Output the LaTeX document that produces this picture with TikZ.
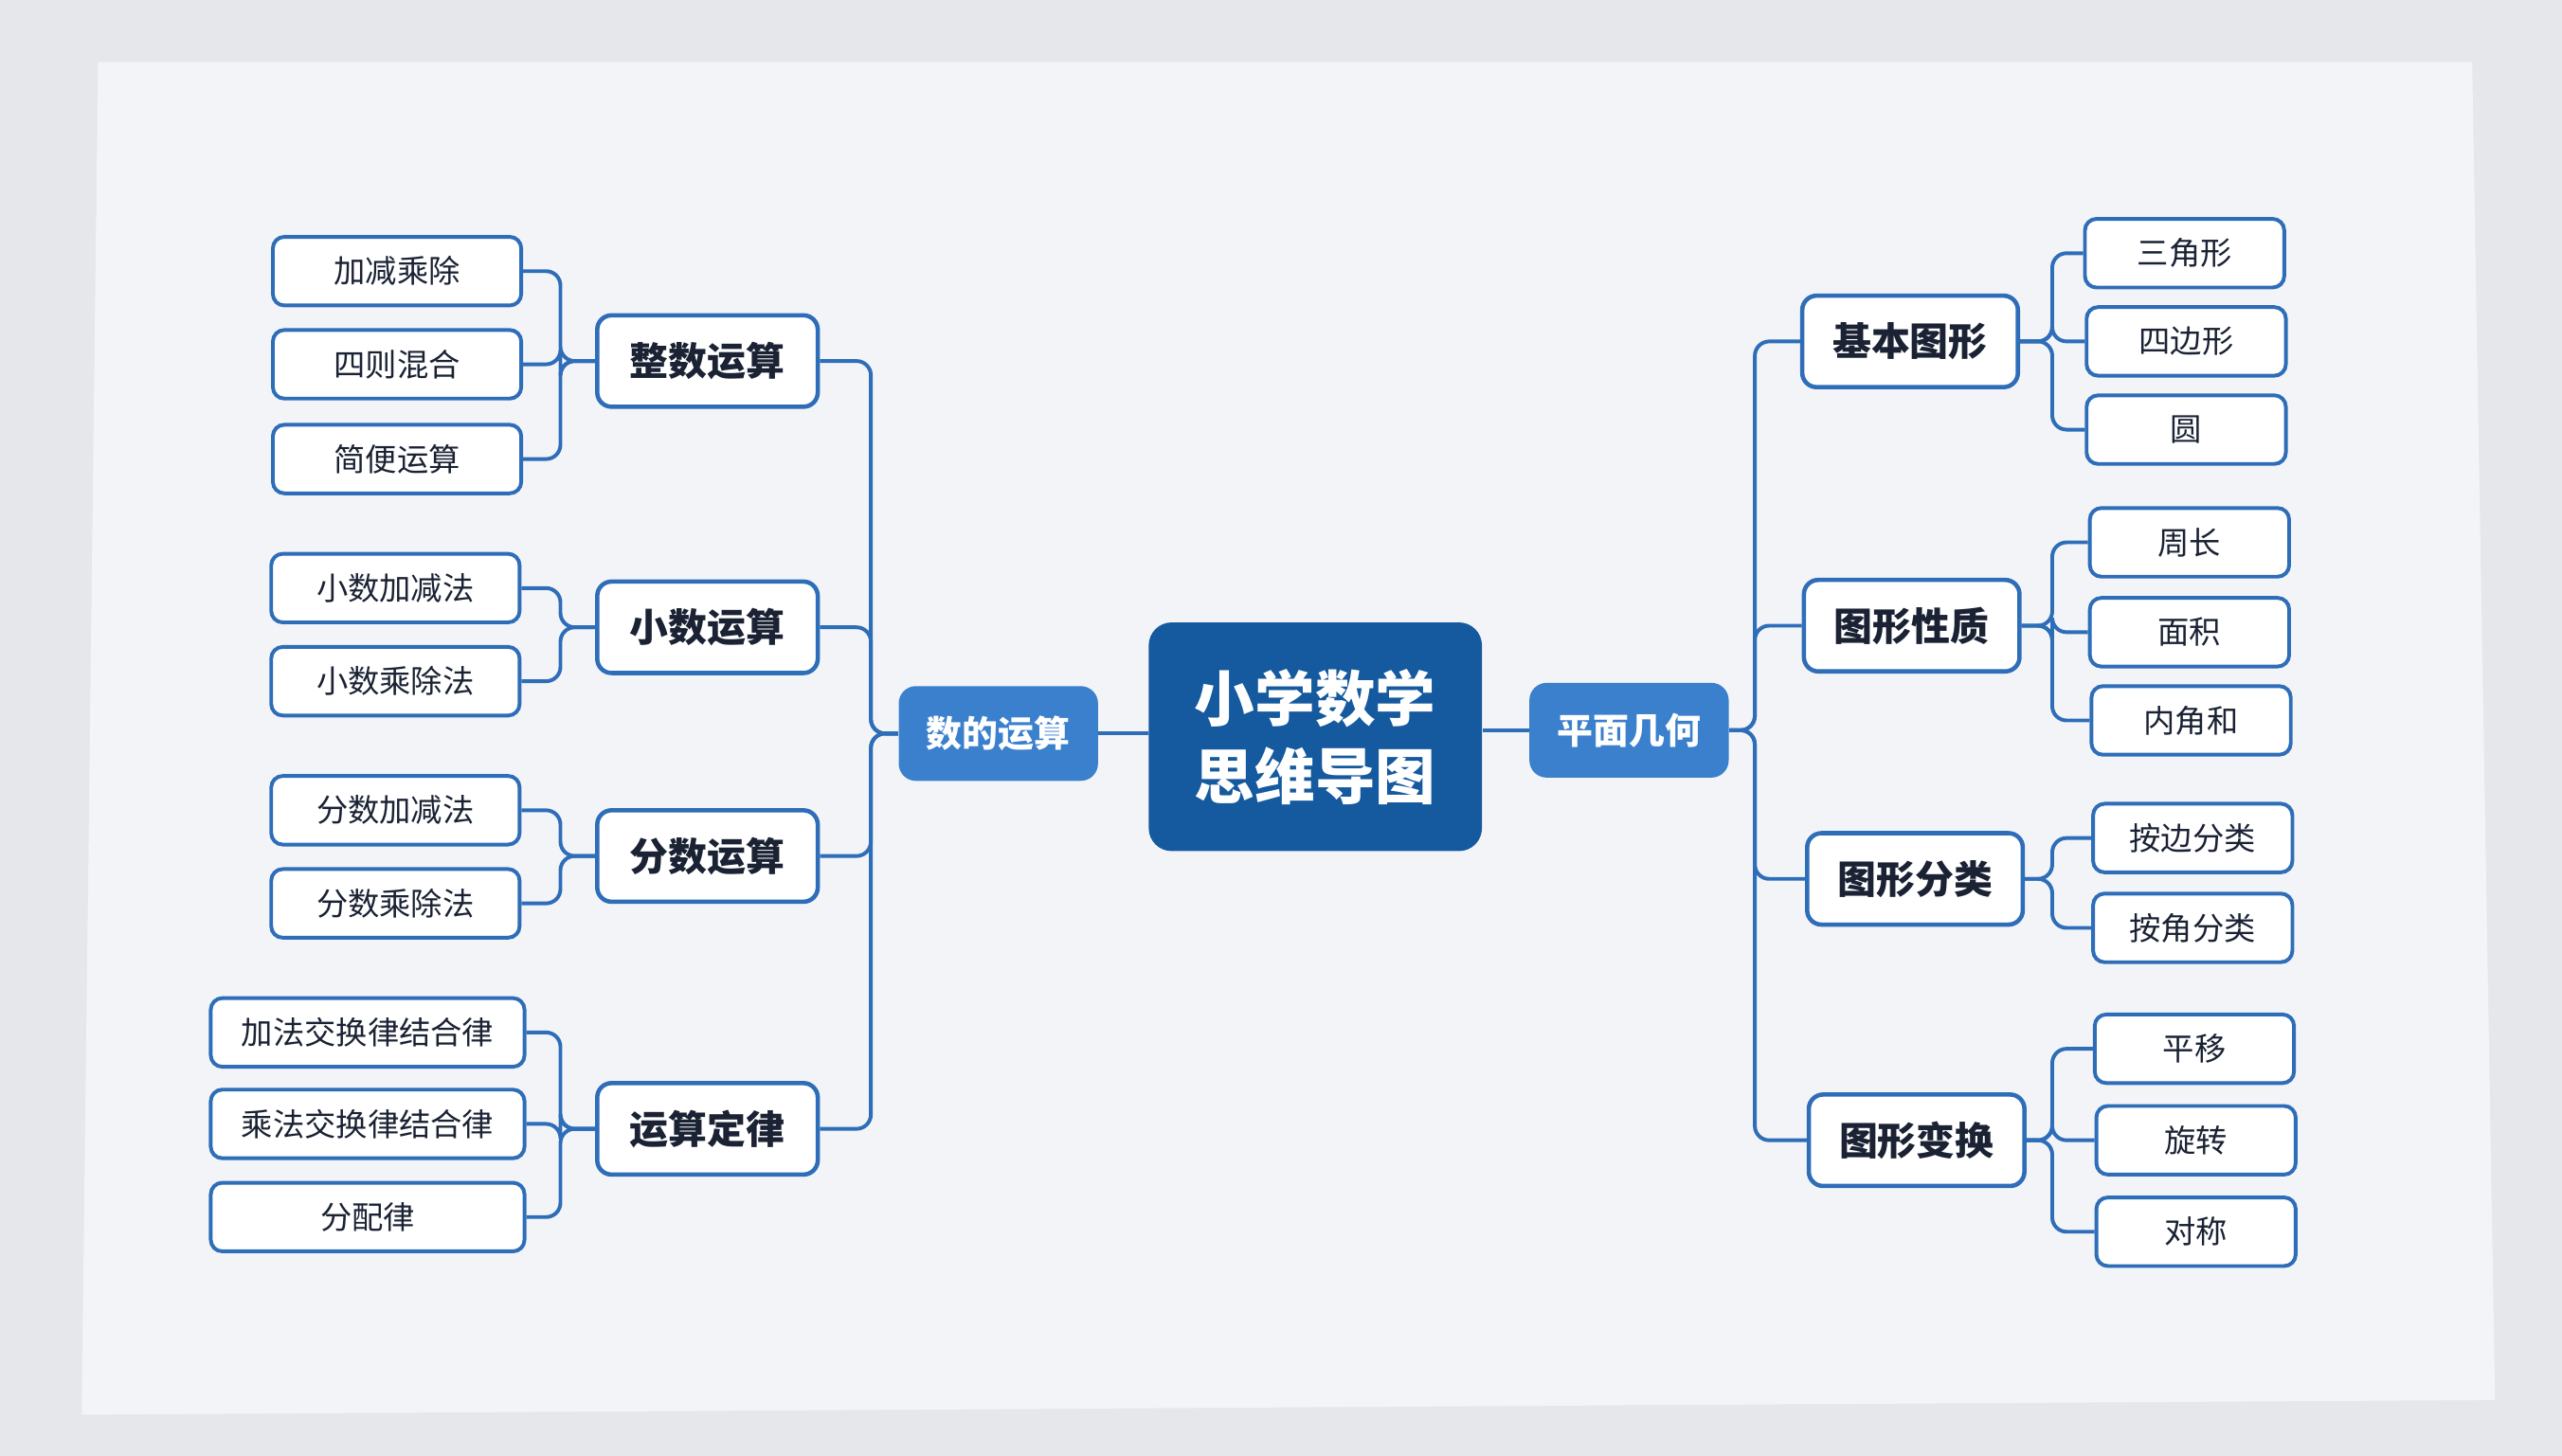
\documentclass[tikz,border=0pt]{standalone}
\usepackage{fontspec}
\newfontfamily\cjk{Noto Sans CJK SC}
\definecolor{bg}{HTML}{E6E7EA}
\definecolor{paper}{HTML}{F3F4F8}
\definecolor{dk}{HTML}{15599F}
\definecolor{md}{HTML}{3A80CC}
\definecolor{ln}{HTML}{2E6DB8}
\definecolor{tx}{HTML}{1A2233}
\begin{document}
\begin{tikzpicture}[x=0.02cm,y=-0.02cm,
 leaf/.style={draw=ln,line width=1.3pt,fill=white,rounded corners=4pt,minimum height=0.84cm,inner sep=0pt,font=\cjk\fontsize{11}{13}\selectfont,text=tx},
 mid/.style={draw=ln,line width=1.5pt,fill=white,rounded corners=5pt,minimum width=2.7cm,minimum height=1.12cm,inner sep=0pt,font=\cjk\bfseries\fontsize{13.5}{16}\selectfont,text=tx},
 sub/.style={fill=md,rounded corners=6pt,minimum width=2.44cm,minimum height=1.16cm,inner sep=0pt,font=\cjk\bfseries\fontsize{12.5}{15}\selectfont,text=white},
 conn/.style={draw=ln,line width=1.3pt,rounded corners=5pt}]
\useasboundingbox (0,0) rectangle (1568,891);
\fill[bg] (0,0) rectangle (1568,891);
\fill[paper] (60,38) -- (1513,38) -- (1527,857) -- (50,866) -- cycle;
\coordinate (bL) at (533,0); \coordinate (bR) at (1074,0);
\coordinate (lL) at (343,0); \coordinate (lR) at (1256,0);
\node[fill=dk,rounded corners=8pt,minimum width=4.08cm,minimum height=2.8cm,align=center,font=\cjk\bfseries\fontsize{21}{27}\selectfont,text=white] (c) at (805,451) {小学数学\\思维导图};
\node[sub] (L) at (611,449) {数的运算};
\node[sub] (R) at (997,447) {平面几何};
\draw[conn] (L.east) -- (L.east -| c.west); \draw[conn] (R.west) -- (R.west -| c.east);
\foreach \n/\y/\t in {m1/221/整数运算,m2/384/小数运算,m3/524/分数运算,m4/691/运算定律}{
 \node[mid] (\n) at (433,\y) {\t};
 \draw[conn] (L.west) -- (L.west -| bL) |- (\n.east);}
\foreach \n/\x/\y/\t in {r1/1169/209/基本图形,r2/1170/383/图形性质,r3/1172/538/图形分类,r4/1173/698/图形变换}{
 \node[mid,minimum width=2.64cm] (\n) at (\x,\y) {\t};
 \draw[conn] (R.east) -- (R.east -| bR) |- (\n.west);}
\foreach \p/\x/\y/\w/\t in {m1/243/166/152/加减乘除,m1/243/223/152/四则混合,m1/243/281/152/简便运算,m2/242/360/152/小数加减法,m2/242/417/152/小数乘除法,m3/242/496/152/分数加减法,m3/242/553/152/分数乘除法,m4/225/632/192/加法交换律结合律,m4/225/688/192/乘法交换律结合律,m4/225/745/192/分配律}{
 \node[leaf,minimum width=\w*0.02cm] (n) at (\x,\y) {\t};
 \draw[conn] (\p.west) -- (\p.west -| lL) |- (n.east);}
\foreach \p/\x/\y/\t in {r1/1337/155/三角形,r1/1338/209/四边形,r1/1338/263/圆,r2/1340/332/周长,r2/1340/387/面积,r2/1341/441/内角和,r3/1342/513/按边分类,r3/1342/568/按角分类,r4/1343/642/平移,r4/1344/698/旋转,r4/1344/754/对称}{
 \node[leaf,minimum width=2.44cm] (n) at (\x,\y) {\t};
 \draw[conn] (\p.east) -- (\p.east -| lR) |- (n.west);}
\end{tikzpicture}
\end{document}
